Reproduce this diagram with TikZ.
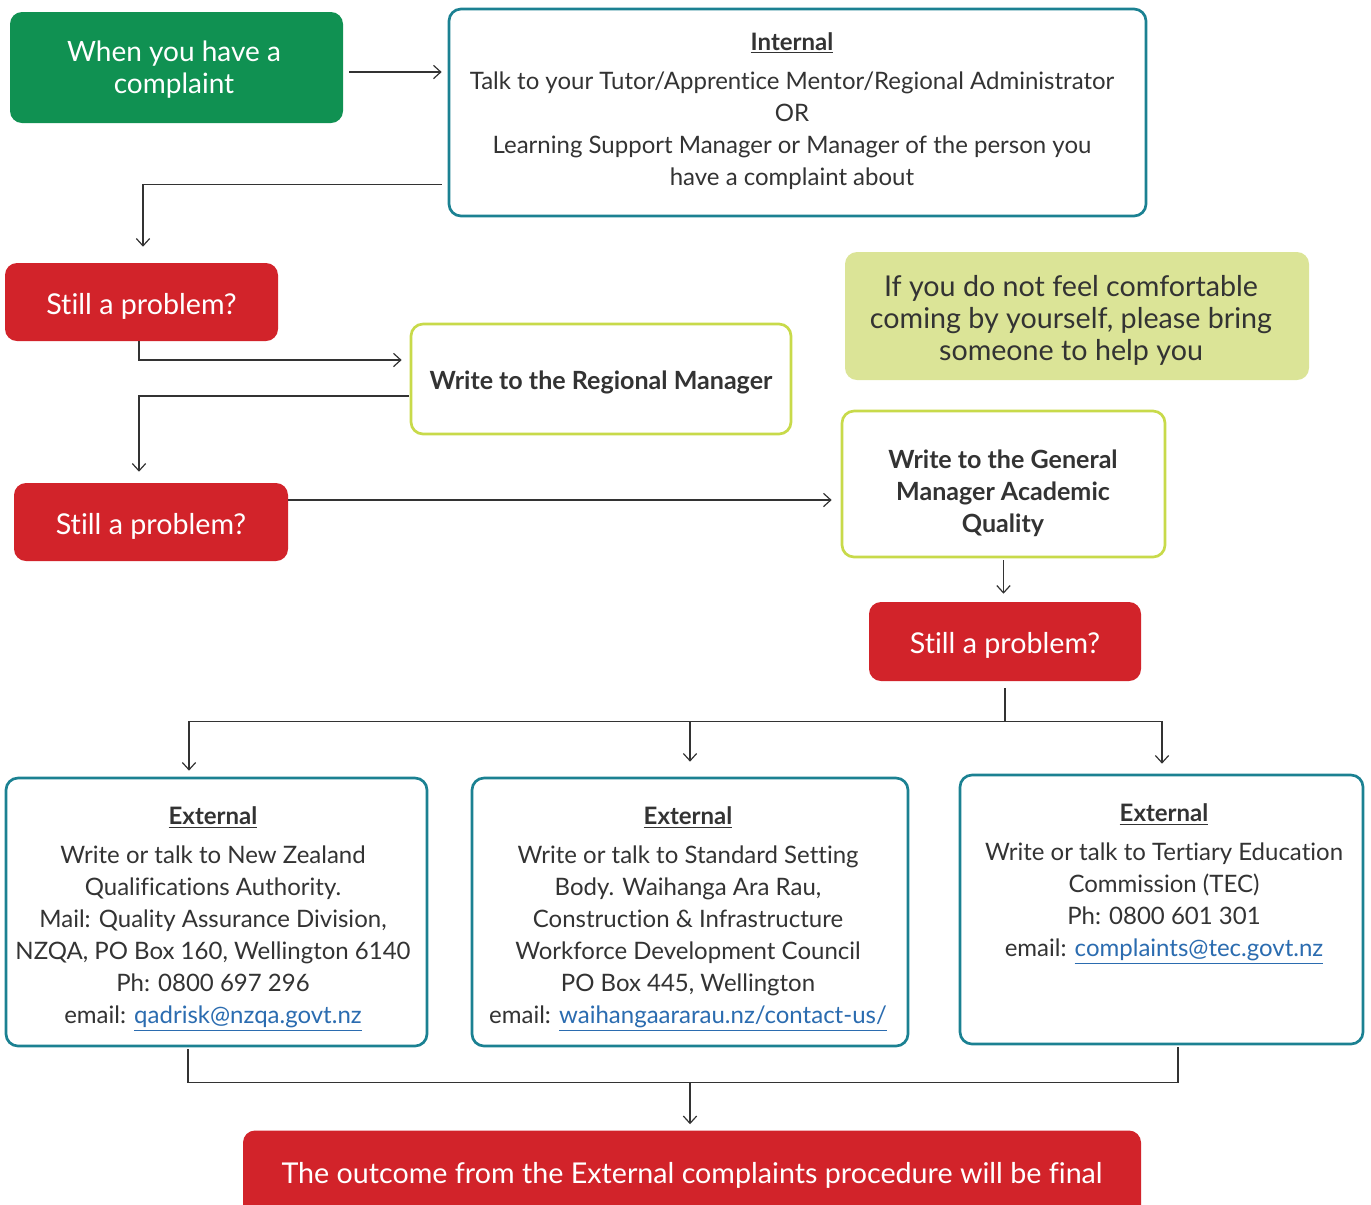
\documentclass[tikz,border=0pt]{standalone}
\usepackage{fontspec}
\setmainfont[Ligatures=NoCommon]{Lato}
\usetikzlibrary{arrows.meta,calc}
\definecolor{cgreen}{HTML}{109152}
\definecolor{cred}{HTML}{D2232A}
\definecolor{cteal}{HTML}{1B8192}
\definecolor{clime}{HTML}{C8DA4A}
\definecolor{cpale}{HTML}{DBE497}
\definecolor{clink}{HTML}{2B6CB0}
\definecolor{ctext}{HTML}{333333}
\newcommand{\lnk}[1]{\textcolor{clink}{\underline{#1}}}
\newcommand{\hd}[1]{\underline{\textbf{#1}}\\[5.25pt]}
\newcommand{\shiftdown}[2]{\raisebox{-#1}[\height][\depth]{#2}}
\tikzset{
  box/.style={rounded corners=9pt, inner sep=0pt},
  filledbox/.style={box, text=white, font=\fontsize{21.5}{24}\selectfont, align=center},
  redbox/.style={filledbox, fill=cred},
  tealbox/.style={box, draw=cteal, line width=2pt, fill=white},
  limebox/.style={box, draw=clime, line width=2pt, fill=white},
  bodytext/.style={inner sep=0pt, align=center, text=ctext, font=\fontsize{18}{24}\selectfont},
  boldtext/.style={bodytext, font=\fontsize{18.8}{24}\selectfont\bfseries},
  arr/.style={draw=ctext, line width=0.9pt, -{Straight Barb[length=5.5pt,width=10pt]}},
  conn/.style={draw=ctext, line width=0.9pt},
}
\begin{document}
\begin{tikzpicture}[x=0.75pt,y=-0.75pt]
\path[use as bounding box] (0,0) rectangle (1371,1204);
\clip (0,0) rectangle (1371,1204);
% boxes
\node[box, fill=cgreen, minimum width=249.75pt, minimum height=83.25pt] (green) at (176.5,67.5) {};
\node[filledbox, font=\fontsize{21}{24}\selectfont] (greent) at (174,70) {When you have a\\complaint};
\node[tealbox, minimum width=522.75pt, minimum height=155.25pt] (internal) at (797.5,112.5) {};
\node[bodytext] (internalt) at (792,111) {\hd{Internal}Talk to your Tutor/Apprentice Mentor/Regional Administrator\\OR\\Learning Support Manager or Manager of the person you\\have a complaint about};
\node[redbox, minimum width=204.75pt, minimum height=58.5pt] (still1) at (141.5,302) {\shiftdown{3pt}{Still a problem?}};
\node[limebox, minimum width=285pt, minimum height=82.5pt, text=ctext, font=\fontsize{18.8}{24}\selectfont\bfseries] (regional) at (601,379) {\shiftdown{2.25pt}{Write to the Regional Manager}};
\node[box, fill=cpale, minimum width=348pt, minimum height=96pt] (comfort) at (1077,316) {};
\node[bodytext, font=\fontsize{21.5}{24}\selectfont] (comfortt) at (1071,320) {If you do not feel comfortable\\coming by yourself, please bring\\someone to help you};
\node[redbox, minimum width=205.5pt, minimum height=58.5pt] (still2) at (151,522) {\shiftdown{3pt}{Still a problem?}};
\node[limebox, minimum width=242.25pt, minimum height=109.5pt] (gm) at (1003.5,484) {};
\node[boldtext] (gmt) at (1003,493) {Write to the General\\Manager Academic\\Quality};
\node[redbox, minimum width=204pt, minimum height=59.25pt] (still3) at (1005,641.5) {\shiftdown{3pt}{Still a problem?}};
\node[tealbox, minimum width=315.75pt, minimum height=201pt] (ext1) at (216.5,912) {};
\node[bodytext] (ext1t) at (213,919) {\hd{External}Write or talk to New Zealand\\Qualifications Authority.\\Mail: Quality Assurance Division,\\NZQA, PO Box 160, Wellington 6140\\Ph: 0800 697 296\\email: \lnk{qadrisk@nzqa.govt.nz}};
\node[tealbox, minimum width=327pt, minimum height=201pt] (ext2) at (690,912) {};
\node[bodytext] (ext2t) at (688,919) {\hd{External}Write or talk to Standard Setting\\Body. Waihanga Ara Rau,\\Construction \& Infrastructure\\Workforce Development Council\\PO Box 445, Wellington\\email: \lnk{waihangaararau.nz/contact-us/}};
\node[tealbox, minimum width=302.25pt, minimum height=201.75pt] (ext3) at (1161.5,909.5) {};
\node[bodytext] (ext3t) at (1164,884) {\hd{External}Write or talk to Tertiary Education\\Commission (TEC)\\Ph: 0800 601 301\\email: \lnk{complaints@tec.govt.nz}};
\node[redbox, minimum width=673.5pt, minimum height=67.5pt] (final) at (692,1175.5) {The outcome from the External complaints procedure will be final};
% connectors
\draw[arr] ($(green.east)+(6,4.5)$) -- ($(internal.west)+(-6,-40.5)$);
\coordinate (a1) at ($(internal.south west)+(-6,-33)$);
\coordinate (a1e) at ($(still1.north)+(1.5,-16)$);
\draw[arr] (a1) -| (a1e);
\coordinate (b1) at ($(still1.south)+(-2.5,0)$);
\coordinate (b1e) at ($(regional.west)+(-8,-19)$);
\draw[arr] (b1) |- (b1e);
\coordinate (c1) at ($(regional.west)+(-1,17)$);
\coordinate (c1e) at ($(still2.north)+(-12,-11)$);
\draw[arr] (c1) -| (c1e);
\coordinate (d1) at ($(still2.east)+(0,-22)$);
\coordinate (d1x) at ($(gm.west)+(-9,0)$);
\draw[arr] (d1) -- (d1x |- d1);
\coordinate (e1) at ($(gm.south)+(0,2)$);
\coordinate (e1y) at ($(still3.north)+(0,-8)$);
\draw[arr] (e1) -- (e1 |- e1y);
\coordinate (f1) at ($(still3.south)+(0,7)$);
\coordinate (J) at ($(still3.south)+(0,40)$);
\draw[conn] (f1) -- (J);
\coordinate (g1) at ($(ext1.north)+(-27.5,-6)$);
\coordinate (g2) at ($(ext2.north)+(0,-15)$);
\coordinate (g3) at ($(ext3.north)+(0.5,-10)$);
\draw[arr] (J) -| (g1);
\draw[arr] (J) -| (g3);
\draw[arr] (g2 |- J) -- (g2);
\coordinate (h1) at ($(ext1.south)+(-28.5,2)$);
\coordinate (h3) at ($(ext3.south)+(16.5,2)$);
\coordinate (hm) at ($(h1)+(0,33)$);
\draw[conn] (h1) |- (hm) -| (h3);
\coordinate (k1) at ($(final.north)+(-2,-48)$);
\coordinate (k2) at ($(final.north)+(-2,-6)$);
\draw[arr] (k1) -- (k2);
\end{tikzpicture}
\end{document}
